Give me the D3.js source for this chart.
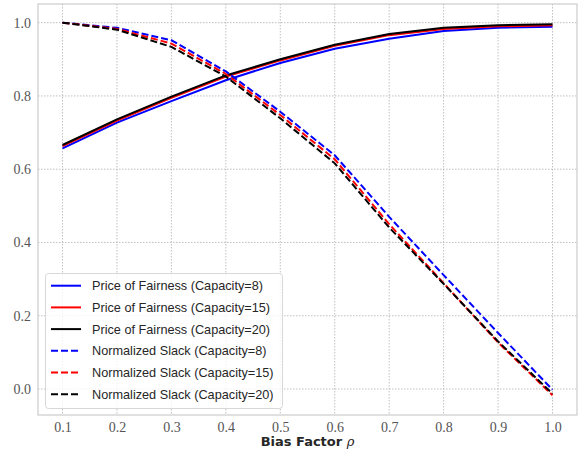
<!DOCTYPE html>
<html><head><meta charset="utf-8">
<script src="https://cdn.jsdelivr.net/npm/d3@7"></script>
<style>body{margin:0;background:#fff}</style>
</head><body>
<svg id="c" width="588" height="451"></svg>
<script>
const rho = [0.1,0.2,0.3,0.4,0.5,0.6,0.7,0.8,0.9,1.0];
const pofCap8  = [0.657,0.727,0.786,0.843,0.890,0.929,0.956,0.977,0.986,0.989];
const pofCap15 = [0.663,0.733,0.795,0.853,0.897,0.937,0.966,0.983,0.990,0.993];
const pofCap20 = [0.666,0.736,0.798,0.856,0.900,0.940,0.969,0.986,0.993,0.996];
const slackCap8  = [1.000,0.986,0.952,0.867,0.757,0.638,0.470,0.311,0.153,-0.002];
const slackCap15 = [1.000,0.983,0.943,0.860,0.748,0.627,0.450,0.289,0.127,-0.017];
const slackCap20 = [1.000,0.981,0.934,0.853,0.739,0.616,0.441,0.287,0.130,-0.013];
const xTicks = [0.1,0.2,0.3,0.4,0.5,0.6,0.7,0.8,0.9,1.0];
const yTicks = [0.0,0.2,0.4,0.6,0.8,1.0];
const seriesNames = ["Price of Fairness (Capacity=8)","Price of Fairness (Capacity=15)","Price of Fairness (Capacity=20)",
  "Normalized Slack (Capacity=8)","Normalized Slack (Capacity=15)","Normalized Slack (Capacity=20)"];
const seriesColors = ["#0000ff","#ff0000","#000000","#0000ff","#ff0000","#000000"];
const seriesDashed = [false,false,false,true,true,true];
const seriesValues = [pofCap8,pofCap15,pofCap20,slackCap8,slackCap15,slackCap20];

const svg = d3.select("#c");
const L=38, R=577, T=4, B=415;
const x = d3.scaleLinear().domain([0.055,1.045]).range([L,R]);
const y = d3.scaleLinear().domain([-0.071,1.051]).range([B,T]);

// grid
const g = svg.append("g");
g.selectAll(".vx").data(xTicks).enter().append("line")
  .attr("x1",d=>x(d)).attr("x2",d=>x(d)).attr("y1",T).attr("y2",B)
  .attr("stroke","#b0b0b0").attr("stroke-width",0.8).attr("stroke-dasharray","1.5,1.5");
g.selectAll(".hy").data(yTicks).enter().append("line")
  .attr("y1",d=>y(d)).attr("y2",d=>y(d)).attr("x1",L).attr("x2",R)
  .attr("stroke","#b0b0b0").attr("stroke-width",0.8).attr("stroke-dasharray","1.5,1.5");

// axes via d3
const xa = svg.append("g").attr("transform",`translate(0,${B})`)
  .call(d3.axisBottom(x).tickValues(xTicks).tickFormat(d3.format(".1f")).tickSize(0).tickPadding(7));
const ya = svg.append("g").attr("transform",`translate(${L},0)`)
  .call(d3.axisLeft(y).tickValues(yTicks).tickFormat(d3.format(".1f")).tickSize(0).tickPadding(7));
[xa,ya].forEach(a=>{
  a.select(".domain").remove();
  a.attr("font-family",null).attr("font-size",null);
  a.selectAll("text").style("font-family","'Liberation Serif', 'DejaVu Serif', serif")
   .style("font-size","14px").attr("fill","#555");
});

// frame
svg.append("rect").attr("x",L).attr("y",T).attr("width",R-L).attr("height",B-T)
  .attr("fill","none").attr("stroke","#cccccc").attr("stroke-width",1.2);

// lines
const line = d3.line().x((d,i)=>x(rho[i])).y(d=>y(d));
seriesValues.forEach((vals,k)=>{
  svg.append("path").datum(vals).attr("d",line)
    .attr("fill","none").attr("stroke",seriesColors[k]).attr("stroke-width",2)
    .attr("stroke-dasharray",seriesDashed[k]?"7,3":null);
});

// legend
const lg = svg.append("g");
lg.append("rect").attr("x",45.5).attr("y",273.5).attr("width",237).attr("height",135).attr("rx",3)
  .attr("fill","#fff").attr("fill-opacity",0.8).attr("stroke","#d8d8d8").attr("stroke-width",1);
seriesNames.forEach((n,k)=>{
  const yy = 285.7 + k*21.7;
  lg.append("line").attr("x1",51).attr("x2",81).attr("y1",yy).attr("y2",yy)
    .attr("stroke",seriesColors[k]).attr("stroke-width",2)
    .attr("stroke-dasharray",seriesDashed[k]?"7,3":null);
  lg.append("text").attr("x",92).attr("y",yy).attr("dy","0.35em")
    .style("font-family","'Liberation Sans', Arial, sans-serif").style("font-size","12.7px")
    .attr("fill","#262626").text(n);
});

// x label
const xl = svg.append("text").attr("x",(L+R)/2).attr("y",446).attr("text-anchor","middle")
  .style("font-family","'DejaVu Sans', sans-serif").style("font-size","13px").attr("font-weight","bold").attr("fill","#262626");
xl.append("tspan").text("Bias Factor ");
xl.append("tspan").style("font-family","'DejaVu Serif', serif").attr("font-style","italic").attr("font-weight","normal").text("ρ");
</script>
</body></html>
